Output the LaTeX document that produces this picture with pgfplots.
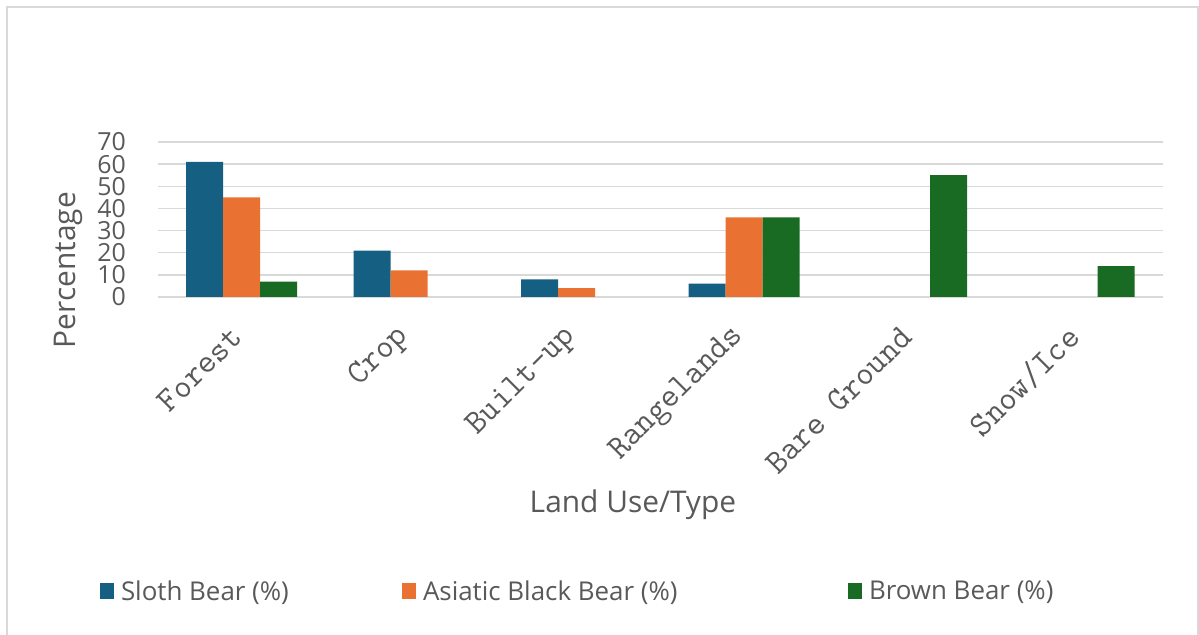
\documentclass[border=0pt]{standalone}
\usepackage{fontspec}
\setmainfont{Open Sans}
\usepackage{pgfplots}
\pgfplotsset{compat=1.18}
\definecolor{sloth}{HTML}{156082}
\definecolor{asiatic}{HTML}{E97132}
\definecolor{brownbear}{HTML}{196B24}
\definecolor{txt}{HTML}{595959}
\definecolor{gridc}{HTML}{D9D9D9}
\begin{document}
\begin{tikzpicture}
\useasboundingbox (0,0) rectangle (1199bp,635bp);
\draw[gridc, line width=1.5bp] (7bp,0) -- (7bp,628bp) -- (1198bp,628bp) -- (1198bp,0);
\begin{axis}[
  at={(158bp,338bp)}, anchor=south west,
  scale only axis, width=1005bp, height=155bp,
  ybar=0pt, bar width=37bp,
  xmin=-0.5, xmax=5.5, ymin=0, ymax=70,
  xtick={0,1,2,3,4,5},
  xticklabels={Forest,Crop,Built-up,Rangelands,Bare Ground,Snow/Ice},
  ytick={0,10,...,70},
  major tick length=0pt,
  axis lines*=left,
  y axis line style={draw=none},
  x axis line style={draw=gridc, line width=2bp},
  ymajorgrids, grid style={gridc, line width=1.5bp},
  /pgf/number format/assume math mode=true,
  yticklabel style={font=\fontsize{25}{25}\selectfont, text=txt, anchor=east, inner sep=0pt, xshift=-32bp},
  xticklabel style={font=\ttfamily\fontsize{34}{34}\selectfont, text=txt, xshift=-5bp, yshift=-35bp, rotate=45, anchor=east, inner sep=0pt},
  xlabel={Land Use/Type},
  xlabel style={at={(axis description cs:0.4726,-1.342)}, anchor=center, font=\fontsize{30}{30}\selectfont, text=txt},
  ylabel={Percentage},
  ylabel style={at={(axis description cs:-0.0896,0.174)}, anchor=center, font=\fontsize{30}{30}\selectfont, text=txt},
  legend columns=3,
  legend style={at={(axis description cs:-0.0577,-1.897)}, anchor=west, draw=none, fill=none,
    inner sep=0pt, outer sep=0pt, column sep=0pt,
    font=\fontsize{26}{26}\selectfont, text=txt,
    nodes={inner sep=0pt},
    /tikz/every odd column/.style={column sep=7bp}},
]
\addplot[fill=sloth, draw=none, legend image code/.code={\fill[sloth] (0bp,-8bp) rectangle (14bp,8bp);}]
  coordinates {(0,61) (1,21) (2,8) (3,6)};
\addplot[fill=asiatic, draw=none, legend image code/.code={\fill[asiatic] (0bp,-8bp) rectangle (14bp,8bp);}]
  coordinates {(0,45) (1,12) (2,4) (3,36)};
\addplot[fill=brownbear, draw=none, legend image code/.code={\fill[brownbear] (0bp,-8bp) rectangle (14bp,8bp);}]
  coordinates {(0,7) (3,36) (4,55) (5,14)};
\legend{\makebox[281bp][l]{Sloth Bear (\%)}, \makebox[425bp][l]{Asiatic Black Bear (\%)}, Brown Bear (\%)}
\end{axis}
\end{tikzpicture}
\end{document}
